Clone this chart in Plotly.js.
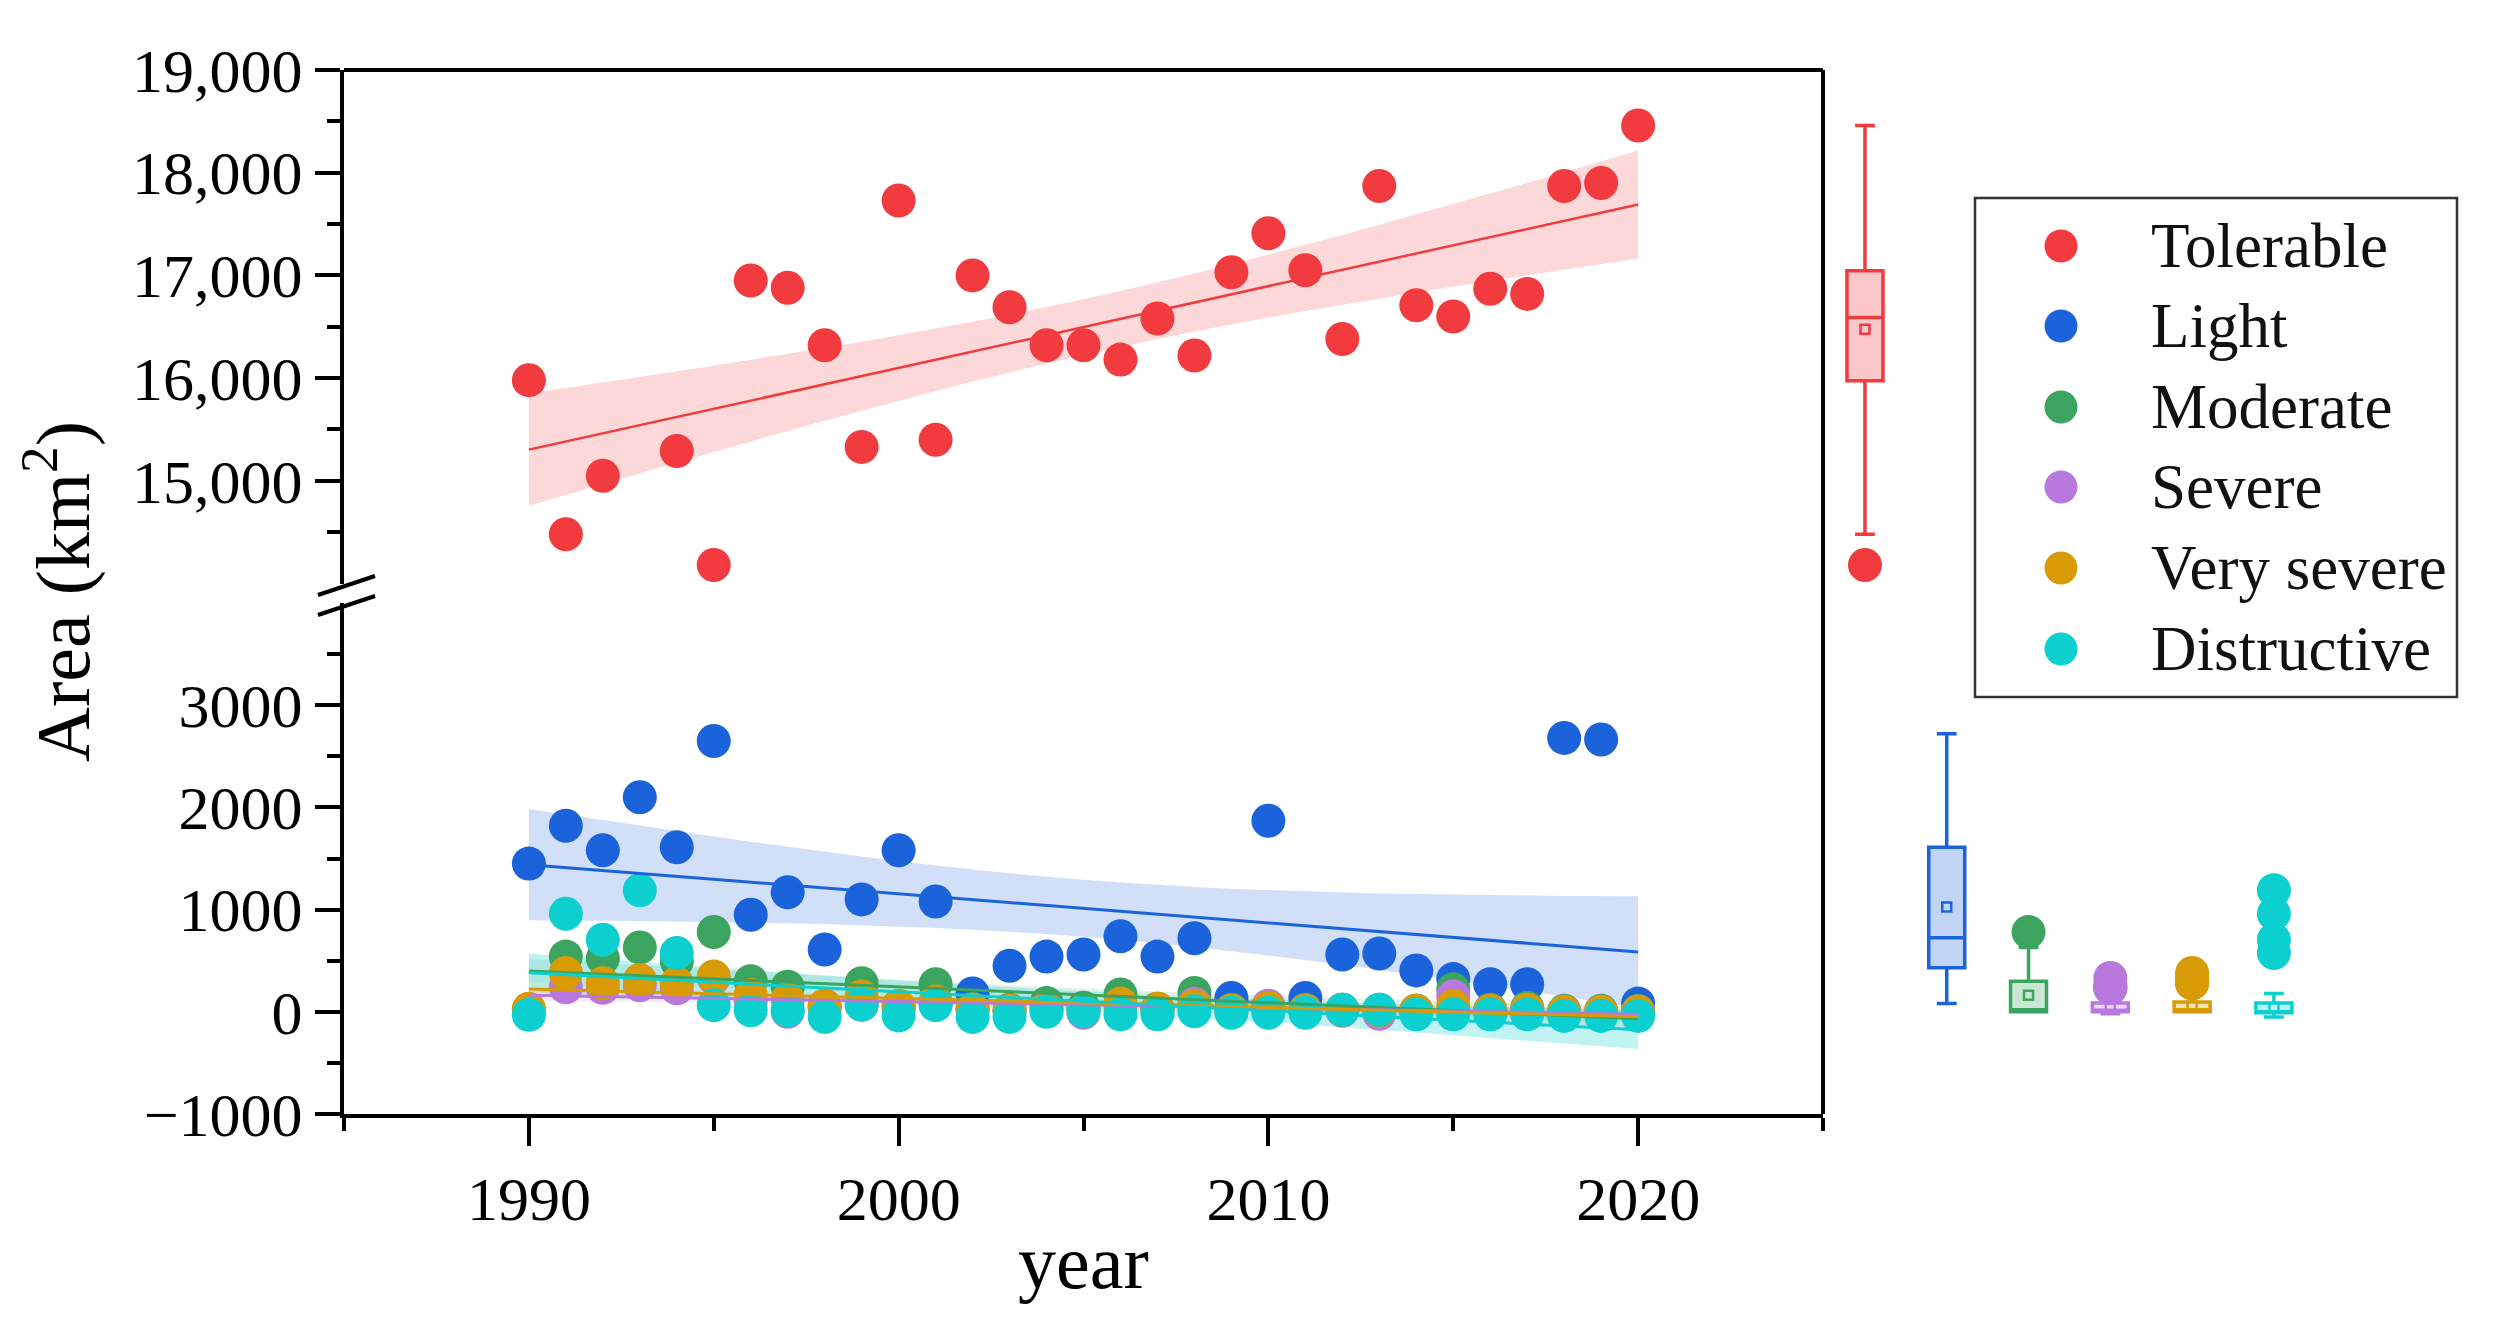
<!DOCTYPE html>
<html>
<head>
<meta charset="utf-8">
<script src="https://cdn.plot.ly/plotly-3.0.1.min.js"></script>
<style>html,body{margin:0;padding:0;background:#fff;}#chart{width:2493px;height:1321px;}</style>
</head>
<body>
<div id="chart"></div>
<script>
// ---------- data ----------
const years = [1990,1991,1992,1993,1994,1995,1996,1997,1998,1999,2000,2001,2002,2003,2004,2005,2006,2007,2008,2009,2010,2011,2012,2013,2014,2015,2016,2017,2018,2019,2020];
const tolerable = [15980,14480,15050,null,15290,14180,16950,16880,16320,15330,17730,15400,17000,16690,16320,16320,16180,16580,16220,17030,17410,17050,16380,17870,16710,16600,16870,16820,17870,17900,18460];
const light = [1450,1820,1580,2100,1610,2650,950,1170,610,1100,1580,1080,180,450,540,560,740,540,720,135,1870,135,560,570,405,320,270,270,2680,2665,80];
const moderate = [20,540,525,630,495,780,300,245,40,280,30,270,30,20,85,40,170,30,185,20,40,20,20,20,10,220,20,40,10,10,10];
const severe = [20,240,235,260,230,330,100,0,60,70,50,80,20,10,30,-10,60,20,80,10,60,10,10,-20,10,150,10,20,0,0,0];
const verySevere = [30,380,280,310,280,345,165,120,60,150,60,100,20,10,20,10,80,30,60,10,40,10,20,10,10,60,10,20,0,0,0];
const distructive = [-30,960,705,1190,575,65,15,15,-50,70,-35,65,-50,-50,0,5,-25,-25,5,-10,-10,-10,20,20,-25,-25,-25,-25,-40,-40,-40];

const seriesNames = ['Tolerable','Light','Moderate','Severe','Very severe','Distructive'];
const seriesValues = [tolerable, light, moderate, severe, verySevere, distructive];

// box-chart statistics
const boxLower  = [14480,   80,   0, -20,   0, -50];
const boxQ1     = [15975,  430,   0,   0,   0, -10];
const boxMedian = [16590,  725,  20,  15,  20,   0];
const boxQ3     = [17045, 1610, 300,  85,  95,  85];
const boxUpper  = [18460, 2720, 630, 160, 170, 180];
const boxMean   = [16475, 1025, 161,  55,  55,  40];

const colors = ['#F23B3F','#1B63DB','#3BA45F','#B878DE','#D89B06','#0CCFCF'];
const bandAlpha = [0.2,0.2,0.14,0.14,0.14,0.25];

const xTickVals = [1990,2000,2010,2020];
const xMinorVals = [1985,1995,2005,2015,2025];
const yTopTickVals = [15000,16000,17000,18000,19000];
const yTopMinorVals = [14500,15500,16500,17500,18500];
const yBotTickVals = [-1000,0,1000,2000,3000];
const yBotMinorVals = [-500,500,1500,2500,3500];

// ---------- helpers ----------
function rgba(hex,a){const r=parseInt(hex.slice(1,3),16),g=parseInt(hex.slice(3,5),16),b=parseInt(hex.slice(5,7),16);return `rgba(${r},${g},${b},${a})`;}
function linfit(xs, ys){
  const px=[],py=[];
  xs.forEach((x,i)=>{if(ys[i]!==null&&ys[i]!==undefined){px.push(x);py.push(ys[i]);}});
  const n=px.length, xb=px.reduce((a,b)=>a+b,0)/n, yb=py.reduce((a,b)=>a+b,0)/n;
  let sxx=0,sxy=0; for(let i=0;i<n;i++){sxx+=(px[i]-xb)**2;sxy+=(px[i]-xb)*(py[i]-yb);}
  const b=sxy/sxx, a=yb-b*xb;
  let sse=0; for(let i=0;i<n;i++){sse+=(py[i]-(a+b*px[i]))**2;}
  const s=Math.sqrt(sse/(n-2)), t=1.96+2.4/(n-2);
  const fitY=xs.map(x=>a+b*x);
  const half=xs.map(x=>t*s*Math.sqrt(1/n+(x-xb)**2/sxx));
  return {fitY, up:fitY.map((v,i)=>v+half[i]), lo:fitY.map((v,i)=>v-half[i])};
}

// ---------- traces ----------
const traces=[];
const fits = seriesValues.map(v=>linfit(years,v));
seriesNames.forEach((nm,i)=>{
  const ya = i===0?'y':'y2';
  traces.push({type:'scatter',mode:'lines',x:years.concat(years.slice().reverse()),
    y:fits[i].up.concat(fits[i].lo.slice().reverse()),fill:'toself',fillcolor:rgba(colors[i],bandAlpha[i]),
    line:{width:0},xaxis:'x',yaxis:ya,hoverinfo:'skip',showlegend:false});
});
seriesNames.forEach((nm,i)=>{
  traces.push({type:'scatter',mode:'markers',name:nm,x:years,y:seriesValues[i],xaxis:'x',yaxis:i===0?'y':'y2',
    marker:{color:colors[i],size:34,line:{width:0}},showlegend:false});
});
seriesNames.forEach((nm,i)=>{
  traces.push({type:'scatter',mode:'lines',x:years,y:fits[i].fitY,xaxis:'x',yaxis:i===0?'y':'y2',
    line:{color:colors[i],width:i===0?2.5:3},hoverinfo:'skip',showlegend:false});
});
seriesNames.forEach((nm,i)=>{
  const ya = i===0?'y':'y2';
  traces.push({type:'box',name:nm,x:[nm],q1:[boxQ1[i]],median:[boxMedian[i]],q3:[boxQ3[i]],
    lowerfence:[boxLower[i]],upperfence:[boxUpper[i]],xaxis:'x2',yaxis:ya,
    width:0.44,whiskerwidth:0.55,line:{color:colors[i],width:3.5},fillcolor:rgba(colors[i],0.28),
    showlegend:false,hoverinfo:'skip'});
  const outl = seriesValues[i].filter(v=>v!==null && (v>boxUpper[i] || v<boxLower[i]));
  traces.push({type:'scatter',mode:'markers',x:outl.map(()=>nm),y:outl,xaxis:'x2',yaxis:ya,
    marker:{color:colors[i],size:34,line:{width:0}},showlegend:false,hoverinfo:'skip'});
  traces.push({type:'scatter',mode:'markers',x:[nm],y:[boxMean[i]],xaxis:'x2',yaxis:ya,
    marker:{symbol:'square-open',size:9,color:colors[i],line:{width:2.5,color:colors[i]}},showlegend:false,hoverinfo:'skip'});
});

// ---------- layout ----------
const L=344, R=13, T=70, B=207, W=2493-L-R, H=1321-T-B, bottomPx=1321-B;
const px = x => (x-L)/W, py = y => (bottomPx-y)/H;
const mainEnd = px(1823);
const FONT='Liberation Serif';

const shapes=[
  {type:'line',xref:'paper',yref:'paper',x0:0,x1:mainEnd,y0:1,y1:1,line:{color:'#000',width:4}},
  {type:'line',xref:'paper',yref:'paper',x0:mainEnd,x1:mainEnd,y0:0,y1:1,line:{color:'#000',width:4}},
  {type:'line',xref:'paper',yref:'paper',x0:px(318),x1:px(375),y0:py(595),y1:py(576),line:{color:'#000',width:4}},
  {type:'line',xref:'paper',yref:'paper',x0:px(318),x1:px(375),y0:py(615),y1:py(596),line:{color:'#000',width:4}},
  {type:'rect',xref:'paper',yref:'paper',x0:px(1975),x1:px(2457),y0:py(697),y1:py(198),line:{color:'#333',width:2.5},fillcolor:'rgba(0,0,0,0)'}
];
const annotations=[
  {xref:'paper',yref:'paper',x:px(58),y:py(592),text:'Area (km<sup>2</sup>)',textangle:-90,showarrow:false,
   xanchor:'center',yanchor:'middle',font:{family:FONT,size:76,color:'#000'}}
];
const legendY=[246,326,407,487,568,649];
seriesNames.forEach((nm,i)=>{
  shapes.push({type:'circle',xref:'paper',yref:'paper',xsizemode:'pixel',ysizemode:'pixel',
    xanchor:px(2061),yanchor:py(legendY[i]),x0:-16.5,x1:16.5,y0:-16.5,y1:16.5,fillcolor:colors[i],line:{width:0}});
  annotations.push({xref:'paper',yref:'paper',x:px(2149),y:py(legendY[i]),text:nm,showarrow:false,
    xanchor:'left',yanchor:'middle',font:{family:FONT,size:63,color:'#111'}});
});

const axisCommon={showline:true,linecolor:'#000',linewidth:4,ticks:'outside',tickwidth:4,tickcolor:'#000',
  showgrid:false,zeroline:false,tickfont:{family:FONT,size:62,color:'#000'},mirror:false};

const layout={
  width:2493,height:1321,paper_bgcolor:'#fff',plot_bgcolor:'rgba(0,0,0,0)',
  margin:{l:L,r:R,t:T,b:B,pad:0},showlegend:false,font:{family:FONT,color:'#000'},
  xaxis:Object.assign({},axisCommon,{domain:[0,mainEnd],range:[1985,2025],anchor:'y2',tickmode:'array',tickvals:xTickVals,
    ticklen:28,minor:{tickmode:'array',tickvals:xMinorVals,ticklen:13,tickwidth:4,ticks:'outside',tickcolor:'#000'},
    title:{text:'year',font:{family:FONT,size:76,color:'#000'},standoff:3}}),
  yaxis:Object.assign({},axisCommon,{domain:[py(583.5),1],range:[14000,19000],anchor:'x',tickmode:'array',tickvals:yTopTickVals,
    tickformat:',d',ticklen:25,minor:{tickmode:'array',tickvals:yTopMinorVals,ticklen:13,tickwidth:4,ticks:'outside',tickcolor:'#000'}}),
  yaxis2:Object.assign({},axisCommon,{domain:[0,py(603)],range:[-1000,4000],anchor:'x',tickmode:'array',tickvals:yBotTickVals,
    tickformat:'d',ticklen:25,minor:{tickmode:'array',tickvals:yBotMinorVals,ticklen:13,tickwidth:4,ticks:'outside',tickcolor:'#000'}}),
  xaxis2:{domain:[mainEnd,1],anchor:'y2',type:'category',categoryorder:'array',categoryarray:seriesNames,
    range:[-0.513,7.52],visible:false,showgrid:false,zeroline:false},
  shapes:shapes,annotations:annotations
};

Plotly.newPlot('chart',traces,layout,{displayModeBar:false,staticPlot:true});
</script>
</body>
</html>
